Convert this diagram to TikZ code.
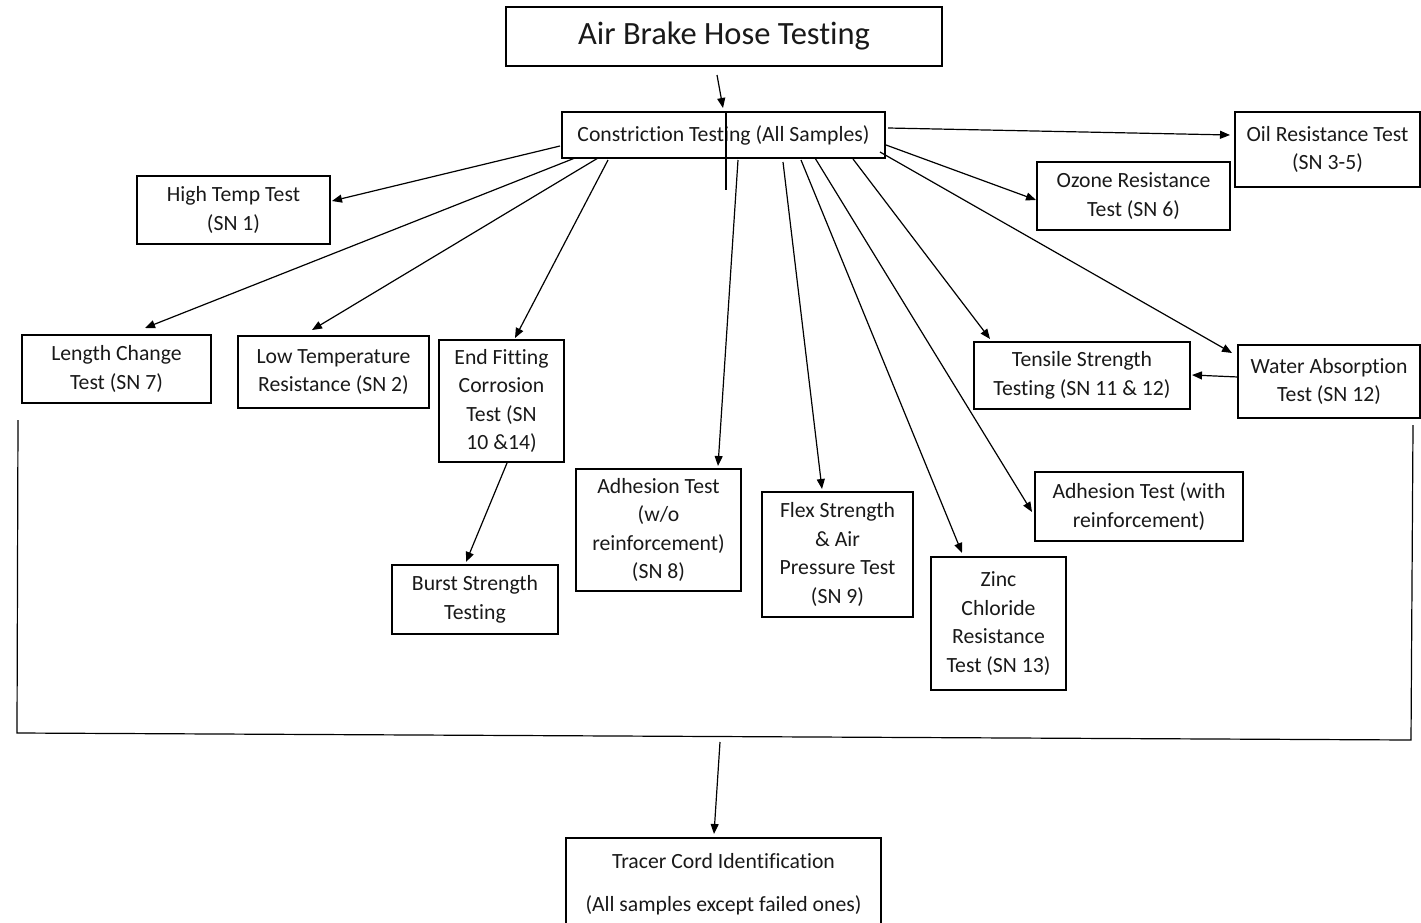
\documentclass[tikz,border=0pt]{standalone}
\usepackage{fontspec}
\setmainfont[Ligatures=NoCommon]{Carlito}
\usetikzlibrary{arrows.meta}
\tikzset{
  box/.style={draw=black, line width=1.2pt, inner sep=0pt, align=center,
    font=\fontsize{21.7}{28.5}\selectfont, text=black!90},
  arr/.style={draw=black, line width=1.2pt, -{Triangle[length=10pt,width=8pt]}},
  ln/.style={draw=black, line width=1.2pt},
}
\begin{document}
\begin{tikzpicture}[x=1pt,y=-1pt]
\useasboundingbox (0,0) rectangle (1421,923);
% nodes
\node[box, minimum width=436pt, minimum height=59pt, font=\fontsize{32.5}{38}\selectfont] (title) at (724,36.5) {\raisebox{-2pt}{Air Brake Hose Testing}};
\node[box, minimum width=323pt, minimum height=46pt] (con) at (723.5,135) {\raisebox{1pt}{Constriction Testing (All Samples)}};
\node[box, minimum width=185pt, minimum height=75pt] (oil) at (1327.5,149.5) {Oil Resistance Test\\(SN 3-5)};
\node[box, minimum width=193pt, minimum height=68pt] (ozone) at (1133.5,196) {Ozone Resistance\\Test (SN 6)};
\node[box, minimum width=193pt, minimum height=68pt] (high) at (233.5,210) {High Temp Test\\(SN 1)};
\node[box, minimum width=189pt, minimum height=68pt] (length) at (116.5,369) {Length Change\\Test (SN 7)};
\node[box, minimum width=191pt, minimum height=72pt] (low) at (333.5,372) {Low Temperature\\Resistance (SN 2)};
\node[box, minimum width=125pt, minimum height=122pt] (endf) at (501.5,401) {End Fitting\\Corrosion\\Test (SN\\10 \&14)};
\node[box, minimum width=166pt, minimum height=69pt] (burst) at (475,599.5) {Burst Strength\\Testing};
\node[box, minimum width=165pt, minimum height=122pt] (adw) at (658.5,530) {Adhesion Test\\(w/o\\reinforcement)\\(SN 8)};
\node[box, minimum width=151pt, minimum height=125pt] (flex) at (837.5,554.5) {Flex Strength\\\& Air\\Pressure Test\\(SN 9)};
\node[box, minimum width=135pt, minimum height=133pt] (zinc) at (998.5,623.5) {Zinc\\Chloride\\Resistance\\Test (SN 13)};
\node[box, minimum width=208pt, minimum height=69pt] (adr) at (1139,506.5) {Adhesion Test (with\\reinforcement)};
\node[box, minimum width=216pt, minimum height=67pt] (tensile) at (1082,375.5) {Tensile Strength\\Testing (SN 11 \& 12)};
\node[box, minimum width=182pt, minimum height=73pt] (water) at (1329,381.5) {Water Absorption\\Test (SN 12)};
\node[box, minimum width=315pt, minimum height=92pt] (tracer) at (723.5,884) {Tracer Cord Identification\\[14.5pt](All samples except failed ones)};
% coordinates
\coordinate (stray) at (726,190);
\coordinate (b1) at (18,420);
\coordinate (b2) at (17,733);
\coordinate (b3) at (1411,740);
\coordinate (b4) at (1413,425);
\coordinate (bm) at (720,742);
% connectors
\draw[arr] ([shift={(-7,38.5)}]title.center) -- ([shift={(-0.5,-27)}]con.center);
\draw[ln] ([shift={(2.5,-23)}]con.center) -- (stray);
\draw[arr] ([shift={(164.5,-7)}]con.center) -- ([shift={(-97.5,-14.5)}]oil.center);
\draw[arr] ([shift={(162.5,10)}]con.center) -- ([shift={(-97.5,4)}]ozone.center);
\draw[arr] ([shift={(156.5,17)}]con.center) -- ([shift={(-97,-28.5)}]water.center);
\draw[arr] ([shift={(-163.5,11)}]con.center) -- ([shift={(98.5,-9)}]high.center);
\draw[arr] ([shift={(-148.5,23)}]con.center) -- ([shift={(28.5,-41)}]length.center);
\draw[arr] ([shift={(-125.5,23)}]con.center) -- ([shift={(-21.5,-42)}]low.center);
\draw[arr] ([shift={(-115.5,25)}]con.center) -- ([shift={(13.5,-63)}]endf.center);
\draw[arr] ([shift={(5.5,62)}]endf.center) -- ([shift={(-9,-37.5)}]burst.center);
\draw[arr] ([shift={(14.5,25)}]con.center) -- ([shift={(59.5,-64)}]adw.center);
\draw[arr] ([shift={(59.5,27)}]con.center) -- ([shift={(-15.5,-65.5)}]flex.center);
\draw[arr] ([shift={(77.5,25)}]con.center) -- ([shift={(-36.5,-70.5)}]zinc.center);
\draw[arr] ([shift={(91.5,23)}]con.center) -- ([shift={(-107,5.5)}]adr.center);
\draw[arr] ([shift={(129.5,24)}]con.center) -- ([shift={(-92,-36.5)}]tensile.center);
\draw[arr] ([shift={(-91,-4.5)}]water.center) -- ([shift={(110,-0.5)}]tensile.center);
\draw[ln] (b1) -- (b2) -- (b3) -- (b4);
\draw[arr] (bm) -- ([shift={(-9.5,-50)}]tracer.center);
\end{tikzpicture}
\end{document}
